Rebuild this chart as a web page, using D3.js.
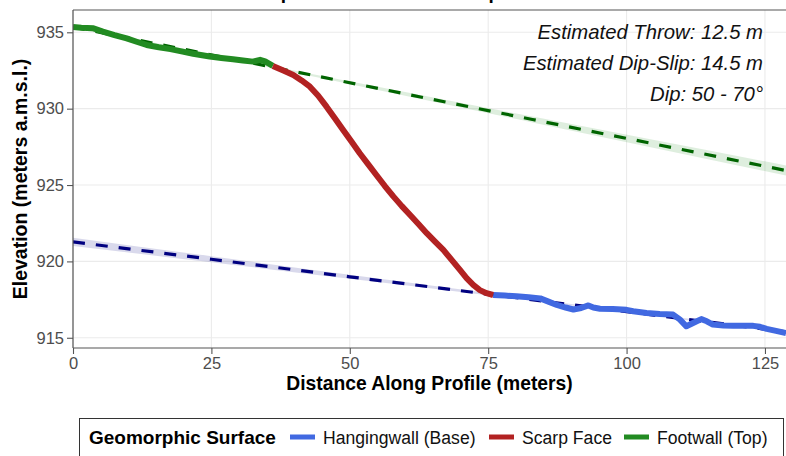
<!DOCTYPE html>
<html><head><meta charset="utf-8">
<script src="https://cdn.jsdelivr.net/npm/d3@7"></script>
<style>body{margin:0;background:#fff}svg{display:block;font-family:"Liberation Sans",Arial,sans-serif}</style>
</head><body><svg id="c" width="786" height="456"></svg>
<script>
const title = "Fault Scarp Profile: Throw and Dip Estimates";
const xTicks = [0, 25, 50, 75, 100, 125];
const yTicks = [915, 920, 925, 930, 935];
const seriesNames = ["Hangingwall (Base)", "Scarp Face", "Footwall (Top)"];
const seriesColors = ["#4169E1", "#B22222", "#228B22"];
const annotations = ["Estimated Throw: 12.5 m", "Estimated Dip-Slip: 14.5 m", "Dip: 50 - 70°"];

const footwall = [[0,935.35],[1.5,935.3],[3.7,935.26],[5.4,935.05],[7.5,934.82],[9.7,934.6],[11.5,934.38],[13.3,934.17],[15.5,934.02],[17.6,933.9],[19.6,933.75],[21.7,933.6],[24.7,933.42],[26.8,933.32],[28.9,933.23],[30.7,933.15],[32.5,933.08],[33.8,933.2],[34.7,933.1],[36.1,932.8]];
const scarp = [[36.1,932.8],[38,932.5],[39.8,932.2],[41.3,931.85],[42.8,931.44],[44.3,930.85],[45.8,930.13],[47.3,929.37],[48.8,928.6],[50.3,927.85],[51.8,927.08],[53.3,926.37],[54.8,925.66],[56.3,924.95],[57.9,924.24],[59.4,923.62],[60.9,923.04],[62.4,922.45],[63.9,921.85],[65.4,921.3],[66.9,920.75],[68.4,920.1],[69.9,919.44],[71.1,918.9],[72.3,918.46],[73.5,918.12],[74.7,917.92],[75.9,917.8]];
const hangingwall = [[75.9,917.8],[78,917.76],[80.1,917.72],[82.3,917.66],[84.4,917.58],[86,917.35],[87.4,917.15],[89,916.98],[90.4,916.85],[91.8,916.95],[93.1,917.12],[94,916.98],[95.2,916.9],[97.5,916.88],[100,916.83],[101.2,916.74],[103.6,916.62],[106,916.56],[108.4,916.52],[109.6,916.2],[110.8,915.75],[112.2,916.0],[113.5,916.22],[114.5,916.08],[115.6,915.86],[117.5,915.8],[119.3,915.78],[122.9,915.78],[124.1,915.72],[125.3,915.58],[127,915.45],[128.8,915.3]];

// fitted trend lines (x, fit, half-width of confidence band)
const footFitX = [0, 10, 20, 36, 60, 83, 105, 128.8];
const footFitY = [935.35, 934.62, 933.89, 932.72, 930.97, 929.29, 927.69, 925.95];
const footFitSE = [0.08, 0.05, 0.04, 0.06, 0.12, 0.19, 0.26, 0.33];
const hangFitX = [0, 25, 50, 76, 100, 128.8];
const hangFitY = [921.28, 920.14, 918.99, 917.81, 916.71, 915.39];
const hangFitSE = [0.27, 0.2, 0.13, 0.07, 0.05, 0.08];

const svg = d3.select("#c");
const L = 73, R = 786, T = 10, B = 348;
const x = d3.scaleLinear().domain([0, 128.8]).range([L, R]);
const y = d3.scaleLinear().domain([914.33, 936.46]).range([B, T]);

svg.append("defs").append("clipPath").attr("id","clip")
  .append("rect").attr("x",L).attr("y",T).attr("width",R-L).attr("height",B-T);

// grid
const g = svg.append("g");
g.selectAll(".gx").data(xTicks).join("line").attr("x1",d=>x(d)).attr("x2",d=>x(d)).attr("y1",T).attr("y2",B).attr("stroke","#ebebeb").attr("stroke-width",1.1);
g.selectAll(".gy").data(yTicks).join("line").attr("x1",L).attr("x2",R).attr("y1",d=>y(d)).attr("y2",d=>y(d)).attr("stroke","#ebebeb").attr("stroke-width",1.1);

const plot = svg.append("g").attr("clip-path","url(#clip)");
function ribbon(xs, ys, se, color){
  const pts = xs.map((v,i)=>[v, ys[i], se[i]]);
  plot.append("path").datum(pts)
    .attr("d", d3.area().x(d=>x(d[0])).y0(d=>y(d[1]-d[2])).y1(d=>y(d[1]+d[2])).curve(d3.curveMonotoneX))
    .attr("fill", color).attr("fill-opacity", 0.15);
}
ribbon(footFitX, footFitY, footFitSE, "#228B22");
ribbon(hangFitX, hangFitY, hangFitSE, "#000080");
function fit(xs, ys, color){
  plot.append("path").datum(xs.map((v,i)=>[v, ys[i]]))
    .attr("d", d3.line().x(d=>x(d[0])).y(d=>y(d[1])))
    .attr("fill","none").attr("stroke",color).attr("stroke-width",3.2).attr("stroke-dasharray","12,11");
}
fit(footFitX, footFitY, "#006400");
fit(hangFitX, hangFitY, "#000080");

const line = d3.line().x(d=>x(d[0])).y(d=>y(d[1]));
[[hangingwall,0],[footwall,2],[scarp,1]].forEach(([data,i])=>{
  plot.append("path").datum(data).attr("d", line).attr("fill","none")
    .attr("stroke", seriesColors[i]).attr("stroke-width",6).attr("stroke-linejoin","round").attr("stroke-linecap","butt");
});

// panel border
svg.append("line").attr("x1",L).attr("x2",R).attr("y1",T).attr("y2",T).attr("stroke","#555").attr("stroke-width",1.2);
svg.append("line").attr("x1",L).attr("x2",L).attr("y1",T).attr("y2",B).attr("stroke","#555").attr("stroke-width",1.2);
svg.append("line").attr("x1",L).attr("x2",R).attr("y1",B).attr("y2",B).attr("stroke","#555").attr("stroke-width",1.2);

// axes
const xa = svg.append("g").attr("transform",`translate(0,${B})`).call(d3.axisBottom(x).tickValues(xTicks).tickSize(6).tickPadding(3).tickFormat(d3.format("d")));
const ya = svg.append("g").attr("transform",`translate(${L},0)`).call(d3.axisLeft(y).tickValues(yTicks).tickSize(6).tickPadding(3).tickFormat(d3.format("d")));
[xa,ya].forEach(a=>{
  a.select(".domain").remove();
  a.selectAll(".tick line").attr("stroke","#555").attr("stroke-width",1.1);
  a.selectAll(".tick text").attr("fill","#4d4d4d").style("font-size","16.5px").style("font-family","'Liberation Sans',Arial,sans-serif");
});

svg.append("text").attr("x",(L+R)/2).attr("y",390).attr("text-anchor","middle").attr("font-weight","bold").attr("font-size","19.3px").text("Distance Along Profile (meters)");
svg.append("text").attr("transform",`translate(27,${(T+B)/2}) rotate(-90)`).attr("text-anchor","middle").attr("font-weight","bold").attr("font-size","19.5px").text("Elevation (meters a.m.s.l.)");
svg.append("text").attr("x",392).attr("y",-1).attr("text-anchor","middle").attr("font-weight","bold").attr("font-size","19px").text(title);

// annotations
svg.selectAll(".ann").data(annotations).join("text").attr("x",763).attr("y",(d,i)=>39+i*31)
  .attr("text-anchor","end").attr("font-style","italic").attr("font-size","20.3px").attr("fill","#111").text(d=>d);

// legend
const lg = svg.append("g");
lg.append("rect").attr("x",79.5).attr("y",418.5).attr("width",704).attr("height",60).attr("fill","#fff").attr("stroke","#333").attr("stroke-width",1);
lg.append("text").attr("x",89).attr("y",444).attr("font-weight","bold").attr("font-size","19px").text("Geomorphic Surface");
const keyX = [290, 489, 624];
seriesNames.forEach((n,i)=>{
  lg.append("line").attr("x1",keyX[i]).attr("x2",keyX[i]+25).attr("y1",437).attr("y2",437).attr("stroke",seriesColors[i]).attr("stroke-width",5);
  lg.append("text").attr("x",keyX[i]+33).attr("y",443.5).attr("font-size","17.6px").attr("fill","#111").text(n);
});
</script></body></html>
